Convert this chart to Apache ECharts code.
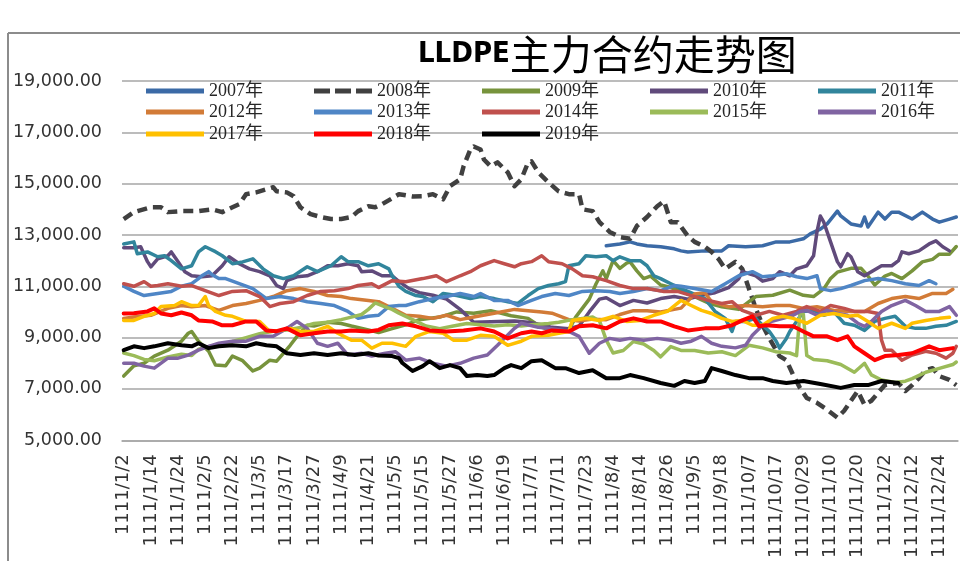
<!DOCTYPE html>
<html>
<head>
<meta charset="utf-8">
<script src="https://cdn.jsdelivr.net/npm/echarts@6/dist/echarts.min.js"></script>
<style>html,body{margin:0;padding:0;background:#fff;}#c{width:960px;height:561px;}</style>
</head>
<body>
<div id="c"></div>
<script>
// ---- data ----
const tickLabels = ['1111/1/2','1111/1/14','1111/1/24','1111/2/5','1111/2/22','1111/3/5','1111/3/17','1111/3/27','1111/4/9','1111/4/21','1111/5/5','1111/5/15','1111/5/27','1111/6/6','1111/6/19','1111/7/1','1111/7/11','1111/7/23','1111/8/4','1111/8/14','1111/8/26','1111/9/5','1111/9/18','1111/10/7','1111/10/17','1111/10/29','1111/11/10','1111/11/20','1111/12/2','1111/12/12','1111/12/24'];
const dayCount = 246;
const labelStep = 8;
const yTicks = [5000, 7000, 9000, 11000, 13000, 15000, 17000, 19000];

const s2007 = [[142,12580],[146,12650],[149,12730],[151,12650],[154,12580],[158,12540],[162,12460],[164,12380],[166,12340],[171,12380],[176,12380],[178,12580],[183,12540],[188,12580],[192,12730],[196,12730],[200,12850],[202,13040],[205,13230],[207,13430],[210,13930],[211,13740],[214,13430],[217,13350],[218,13700],[219,13310],[222,13890],[224,13620],[226,13890],[228,13890],[232,13620],[235,13890],[238,13620],[240,13500],[243,13620],[245,13700]];
const s2008 = [[0,13620],[3,13890],[8,14080],[11,14080],[13,13890],[17,13930],[22,13930],[26,14000],[29,13890],[32,14080],[34,14200],[36,14590],[39,14660],[42,14780],[44,14860],[45,14700],[48,14660],[50,14510],[52,14080],[55,13810],[58,13700],[61,13620],[64,13620],[67,13700],[69,13930],[72,14120],[74,14080],[76,14200],[79,14430],[81,14590],[85,14500],[88,14510],[91,14590],[94,14390],[96,14900],[99,15170],[100,15670],[102,16330],[103,16450],[105,16330],[106,15940],[108,15670],[110,15830],[113,15440],[115,14900],[117,15170],[119,15830],[120,15870],[122,15440],[125,15050],[128,14700],[131,14590],[134,14590],[135,14000],[138,13930],[140,13500],[143,13120],[146,12920],[149,12850],[151,13350],[154,13700],[157,14120],[159,14320],[161,13500],[163,13500],[166,12960],[168,12730],[171,12540],[173,12340],[175,12070],[177,11680],[180,11950],[182,11680],[184,10900],[186,10130],[188,9480],[190,8970],[193,8280],[195,8120],[197,7540],[199,7040],[201,6650],[204,6460],[207,6190],[210,5880],[212,6150],[214,6540],[216,6920],[218,6380],[220,6540],[222,6850],[224,7150],[228,7230],[230,6920],[232,7150],[234,7420],[236,7730],[238,7810],[240,7500],[243,7350],[245,7150]];
const s2009 = [[0,7500],[3,7900],[6,8000],[9,8280],[13,8510],[17,8860],[19,9170],[20,9240],[22,8860],[25,8470],[27,7930],[30,7900],[32,8280],[35,8100],[38,7700],[40,7810],[43,8120],[45,8080],[47,8390],[49,8700],[51,9050],[54,9480],[56,9450],[60,9600],[64,9550],[67,9450],[72,9300],[75,9200],[79,9350],[83,9500],[87,9700],[93,9800],[98,10000],[103,9950],[108,10050],[114,9850],[119,9750],[123,9400],[128,9200],[131,9300],[133,9800],[137,10500],[139,11100],[141,11600],[142,11300],[144,12000],[146,11700],[148,11900],[149,11950],[151,11600],[153,11300],[155,11400],[158,11050],[161,10950],[164,10800],[168,10600],[172,10350],[176,10200],[181,10100],[184,10400],[186,10600],[191,10650],[196,10850],[200,10650],[203,10600],[206,10900],[208,11300],[210,11550],[214,11700],[217,11700],[219,11400],[221,11050],[224,11400],[226,11500],[229,11300],[232,11600],[235,11950],[238,12050],[240,12250],[243,12250],[245,12550]];
const s2010 = [[0,12500],[3,12500],[5,12540],[7,11960],[8,11760],[10,12070],[13,12190],[14,12340],[16,11960],[18,11570],[20,11410],[23,11370],[26,11410],[29,11800],[31,12150],[34,11880],[37,11680],[40,11570],[43,11410],[45,11030],[47,10910],[48,11220],[51,11370],[54,11410],[57,11570],[60,11800],[63,11800],[66,11880],[69,11800],[70,11570],[73,11600],[76,11410],[79,11410],[81,11180],[84,10910],[87,10750],[91,10650],[95,10500],[99,10100],[103,9600],[108,9620],[115,9650],[119,9600],[123,9500],[126,9400],[131,9350],[134,9450],[137,10000],[140,10500],[142,10550],[146,10250],[150,10450],[154,10350],[158,10520],[162,10600],[166,10500],[170,10650],[174,10750],[178,10950],[181,11300],[182,11570],[186,11410],[188,11200],[191,11300],[193,11570],[196,11410],[198,11680],[201,11800],[203,12190],[204,13120],[205,13740],[206,13500],[208,12730],[210,11960],[211,11760],[213,12270],[214,12150],[216,11570],[218,11410],[220,11570],[223,11800],[226,11800],[228,12000],[229,12340],[231,12270],[234,12380],[237,12650],[239,12770],[241,12540],[243,12380]];
const s2011 = [[0,12650],[3,12730],[4,12270],[7,12340],[10,12150],[12,12190],[14,12000],[17,11680],[20,11800],[22,12340],[24,12540],[27,12350],[29,12190],[32,11880],[35,11950],[38,12070],[41,11680],[44,11410],[47,11300],[50,11410],[54,11760],[57,11570],[61,11800],[64,12150],[66,11960],[69,11960],[72,11800],[75,11880],[78,11680],[79,11410],[81,11000],[83,10800],[86,10640],[88,10600],[91,10400],[94,10720],[98,10640],[102,10520],[105,10600],[109,10520],[113,10400],[116,10330],[119,10640],[122,10910],[125,11030],[128,11100],[130,11180],[131,11800],[134,11880],[136,12190],[139,12150],[142,12190],[144,12000],[146,12150],[149,12000],[152,12000],[154,11800],[156,11410],[158,11300],[161,11100],[164,10910],[166,10800],[171,10520],[174,10020],[177,9750],[179,9240],[180,9630],[183,9630],[186,9750],[188,9480],[190,9240],[192,8860],[193,8590],[195,8970],[196,9240],[198,9630],[200,10020],[203,10060],[206,9870],[209,10000],[212,9560],[215,9480],[218,9280],[221,9630],[224,9750],[227,9830],[230,9440],[233,9360],[236,9360],[239,9440],[242,9480],[245,9630]];
const s2012 = [[0,9750],[3,9800],[8,9870],[13,10140],[17,10250],[20,10200],[24,10250],[28,10060],[32,10250],[36,10330],[40,10450],[44,10600],[48,10830],[52,10910],[56,10800],[60,10640],[64,10600],[67,10520],[72,10450],[75,10400],[79,10140],[83,9870],[87,9830],[91,9750],[95,9870],[99,9700],[103,9800],[107,9900],[111,10000],[115,10100],[119,10050],[123,10000],[126,9950],[131,9700],[134,9650],[138,9720],[142,9700],[146,9900],[150,10050],[154,10050],[158,10000],[162,10100],[164,10150],[168,10700],[171,10750],[173,10400],[178,10200],[183,10250],[188,10200],[192,10250],[196,10250],[200,10140],[204,10200],[209,10060],[214,10020],[218,10020],[222,10330],[226,10520],[230,10600],[234,10520],[238,10720],[242,10720],[244,10880]];
const s2013 = [[0,11000],[3,10800],[6,10640],[10,10720],[14,10800],[17,11000],[20,11100],[22,11300],[23,11410],[25,11570],[26,11450],[28,11300],[30,11300],[34,11100],[38,10910],[42,10520],[46,10600],[50,10520],[54,10400],[58,10330],[62,10250],[66,10020],[69,9750],[72,9830],[75,9870],[78,10210],[81,10250],[83,10250],[87,10400],[91,10520],[95,10600],[99,10720],[103,10600],[105,10720],[109,10450],[113,10450],[116,10250],[120,10450],[123,10600],[127,10720],[131,10640],[135,10800],[139,10830],[143,10800],[146,10720],[150,10800],[154,10910],[158,10830],[162,11030],[164,11000],[168,10910],[173,10800],[177,11100],[181,11410],[185,11570],[188,11370],[191,11410],[195,11490],[198,11370],[201,11300],[204,11410],[205,10910],[208,10830],[211,10910],[214,11030],[218,11220],[222,11300],[226,11220],[230,11100],[234,11030],[237,11220],[239,11100]];
const s2014 = [[0,11100],[3,11000],[6,11180],[8,11000],[10,11030],[13,11100],[17,11000],[20,11030],[24,10830],[28,10640],[32,10800],[36,10830],[40,10600],[43,10210],[46,10330],[50,10400],[54,10640],[58,10800],[62,10830],[66,10910],[69,11030],[73,11100],[75,10950],[79,11220],[83,11180],[88,11300],[92,11410],[95,11180],[99,11410],[102,11570],[105,11800],[109,12000],[112,11880],[115,11760],[117,11880],[120,11960],[123,12190],[125,11960],[129,11880],[132,11680],[135,11410],[138,11370],[142,11220],[146,11030],[150,10910],[154,10910],[159,10800],[163,10800],[168,10600],[172,10450],[176,10330],[179,10400],[182,10060],[186,9870],[190,10020],[194,9870],[198,10020],[201,10210],[205,10020],[208,10250],[212,10140],[215,10020],[219,10020],[222,9940],[223,8900],[224,8510],[226,8510],[229,8120],[232,8320],[236,8470],[239,8390],[242,8200],[244,8390],[245,8660]];
const s2015 = [[0,8400],[3,8300],[6,8150],[9,8100],[13,8250],[17,8350],[20,8300],[22,8550],[25,8650],[29,8750],[32,8850],[36,9000],[40,9150],[44,9250],[48,9300],[52,9400],[56,9550],[60,9600],[64,9700],[67,9800],[70,9900],[72,10100],[74,10350],[76,10250],[79,10100],[81,9950],[85,9700],[89,9450],[93,9350],[97,9450],[101,9550],[105,9500],[109,9450],[113,9500],[117,9450],[120,9500],[125,9550],[128,9600],[132,9700],[135,9750],[138,9800],[140,9650],[142,8900],[144,8400],[147,8500],[150,8850],[153,8750],[156,8500],[158,8250],[161,8650],[164,8500],[168,8500],[172,8400],[176,8450],[180,8300],[184,8700],[188,8600],[192,8450],[196,8400],[198,8300],[199,10000],[200,9900],[201,8300],[203,8150],[207,8100],[211,7950],[215,7650],[218,8000],[220,7550],[223,7350],[227,7250],[230,7300],[232,7400],[236,7650],[240,7800],[244,7950],[245,8050]];
const s2016 = [[0,8000],[3,8000],[6,7890],[9,7810],[13,8200],[16,8200],[19,8320],[22,8510],[25,8660],[28,8780],[32,8860],[36,8860],[40,9050],[44,9050],[48,9360],[51,9630],[54,9360],[57,8780],[60,8660],[63,8780],[66,8320],[70,8390],[73,8280],[77,8390],[80,8450],[83,8120],[87,8200],[91,8000],[95,7890],[99,8000],[103,8200],[107,8320],[110,8700],[112,8970],[115,9360],[117,9560],[122,9400],[126,9350],[131,9240],[134,9050],[137,8390],[140,8780],[143,8970],[146,8900],[149,8970],[153,8900],[157,8970],[161,8900],[164,8780],[167,8860],[170,9050],[173,8780],[176,8660],[180,8600],[183,8700],[185,9090],[188,9480],[191,9650],[194,9750],[197,9870],[199,10020],[201,10060],[204,9870],[207,10060],[210,9940],[213,9870],[216,9560],[218,9440],[220,9630],[223,10020],[226,10250],[230,10450],[233,10250],[236,10020],[240,10020],[243,10210],[245,9870]];
const s2017 = [[0,9670],[3,9670],[6,9830],[9,9940],[11,10210],[15,10250],[17,10400],[20,10250],[22,10250],[24,10600],[25,10250],[27,10020],[30,9870],[32,9830],[36,9630],[40,9630],[43,9240],[46,9280],[49,9360],[52,9240],[56,9240],[60,9440],[63,9170],[67,8900],[70,8900],[73,8590],[76,8780],[79,8780],[83,8660],[86,9050],[90,9240],[94,9170],[97,8900],[101,8900],[105,9090],[109,9050],[113,8700],[117,8860],[120,9050],[125,9090],[128,9170],[131,9240],[132,9670],[136,9750],[140,9670],[144,9830],[148,9630],[152,9670],[156,9870],[160,10020],[164,10450],[167,10250],[170,10060],[173,9940],[176,9750],[179,9630],[182,9670],[185,9480],[188,9480],[191,9750],[194,9830],[197,9750],[201,9560],[205,9870],[209,9940],[213,9830],[216,9870],[219,9630],[222,9360],[226,9560],[230,9360],[232,9560],[236,9670],[240,9750],[243,9790]];
const s2018 = [[0,9940],[3,9950],[7,10020],[9,10140],[11,9940],[14,9870],[17,9980],[20,9870],[22,9670],[26,9630],[29,9480],[32,9480],[36,9630],[39,9630],[42,9280],[45,9250],[48,9360],[52,9090],[56,9170],[60,9240],[64,9240],[67,9280],[72,9240],[75,9300],[78,9480],[82,9550],[86,9440],[90,9280],[95,9240],[100,9280],[105,9360],[109,9240],[113,8970],[117,9170],[120,9240],[123,9170],[126,9280],[131,9240],[134,9440],[138,9480],[142,9360],[146,9630],[150,9750],[154,9630],[158,9630],[162,9440],[166,9280],[171,9360],[175,9360],[179,9480],[182,9670],[185,9830],[187,9440],[189,9480],[193,9440],[197,9440],[200,9240],[203,9050],[207,9050],[210,8900],[213,9050],[215,8660],[218,8390],[221,8120],[224,8280],[228,8320],[232,8390],[237,8660],[240,8510],[244,8590]];
const s2019 = [[0,8510],[3,8660],[6,8590],[9,8660],[13,8780],[17,8700],[20,8660],[22,8780],[25,8590],[28,8660],[32,8700],[36,8660],[39,8780],[42,8700],[45,8660],[48,8390],[52,8320],[56,8390],[60,8320],[64,8390],[68,8320],[72,8390],[75,8300],[79,8280],[81,8200],[82,8010],[85,7700],[88,7890],[90,8080],[93,7810],[96,7930],[99,7810],[101,7500],[104,7540],[107,7500],[109,7540],[112,7810],[114,7930],[117,7810],[120,8080],[123,8120],[127,7810],[130,7810],[134,7620],[138,7730],[142,7420],[146,7420],[149,7540],[153,7420],[158,7230],[162,7120],[165,7310],[168,7230],[171,7310],[173,7810],[176,7700],[180,7540],[184,7420],[188,7420],[191,7310],[195,7230],[200,7310],[205,7190],[211,7040],[215,7150],[219,7150],[223,7310],[228,7230]];

const seriesNames = ['2007年','2008年','2009年','2010年','2011年','2012年','2013年','2014年','2015年','2016年','2017年','2018年','2019年'];
const seriesData = [s2007,s2008,s2009,s2010,s2011,s2012,s2013,s2014,s2015,s2016,s2017,s2018,s2019];
const seriesColors = ['#3B6AA6','#404040','#77933C','#604A7B','#31859C','#D27B37','#4F86C6','#C0504D','#9BBB59','#8064A2','#FFC000','#FF0000','#000000'];

// ---- build ----
const categories = [];
for (let i = 0; i < dayCount; i++) {
  categories.push(i % labelStep === 0 && tickLabels[i / labelStep] ? tickLabels[i / labelStep] : '');
}
function fmt(v) {
  const s = Math.round(v).toString().replace(/\B(?=(\d{3})+(?!\d))/g, ',');
  return s + '.00';
}

const series = seriesNames.map((n, k) => ({
  name: n,
  type: 'line',
  data: seriesData[k],
  symbol: 'none',
  smooth: false,
  animation: false,
  color: seriesColors[k],
  itemStyle: { color: seriesColors[k] },
  lineStyle: {
    color: seriesColors[k],
    width: k === 1 ? 4.5 : (k >= 11 ? 4 : 3.5),
    type: k === 1 ? [10, 6] : 'solid',
    join: 'round',
    cap: k === 1 ? 'butt' : 'round'
  }
}));

const dashIcon = 'path://M0 0H16V5H0ZM21 0H37V5H21ZM42 0H58V5H42Z';
function legendItems(names) {
  return names.map(n => (n === '2008年' ? { name: n, icon: dashIcon } : { name: n, icon: 'rect' }));
}
const legendBase = {
  left: 141,
  orient: 'horizontal',
  itemWidth: 58,
  itemHeight: 5,
  itemGap: 51,
  textStyle: { fontFamily: "'Liberation Serif', 'Noto Sans CJK SC'", fontSize: 18, color: '#262626', lineHeight: 18 }
};

const chart = echarts.init(document.getElementById('c'), null, { renderer: 'canvas' });
chart.setOption({
  animation: false,
  backgroundColor: '#fff',
  title: {
    text: '{a|LLDPE}{b|主力合约走势图}',
    left: 413,
    top: 27,
    textStyle: {
      rich: {
        a: { fontFamily: "'DejaVu Sans Condensed', 'Noto Sans CJK SC'", fontWeight: 'bold', fontSize: 29, color: '#000', lineHeight: 44 },
        b: { fontFamily: 'Noto Sans CJK SC', fontWeight: 'normal', fontSize: 41, color: '#000', lineHeight: 44 }
      }
    }
  },
  legend: [
    Object.assign({}, legendBase, { top: 77, data: legendItems(seriesNames.slice(0, 5)) }),
    Object.assign({}, legendBase, { top: 98, data: legendItems(seriesNames.slice(5, 10)) }),
    Object.assign({}, legendBase, { top: 120, data: legendItems(seriesNames.slice(10)) })
  ],
  grid: { left: 122, right: 2, top: 81, bottom: 118, containLabel: false },
  xAxis: {
    type: 'category',
    data: categories,
    boundaryGap: true,
    axisLine: { show: true, lineStyle: { color: '#a6a6a6', width: 1.5 } },
    axisTick: { show: false },
    axisLabel: {
      interval: labelStep - 1,
      rotate: 90,
      margin: 14,
      fontFamily: 'DejaVu Sans',
      fontSize: 18,
      color: '#333'
    },
    splitLine: { show: false }
  },
  yAxis: {
    type: 'value',
    min: yTicks[0],
    max: yTicks[yTicks.length - 1],
    interval: 2000,
    axisLine: { show: false },
    axisTick: { show: false },
    axisLabel: { formatter: fmt, margin: 20, fontFamily: 'DejaVu Sans', fontSize: 17.5, color: '#333' },
    splitLine: { show: true, lineStyle: { color: '#a6a6a6', width: 1.5 } }
  },
  graphic: [
    { type: 'line', shape: { x1: 8, y1: 33, x2: 960, y2: 33 }, style: { stroke: '#8c8c8c', lineWidth: 2 }, silent: true },
    { type: 'line', shape: { x1: 8, y1: 33, x2: 8, y2: 561 }, style: { stroke: '#8c8c8c', lineWidth: 2 }, silent: true }
  ],
  series: series
});
</script>
</body>
</html>
